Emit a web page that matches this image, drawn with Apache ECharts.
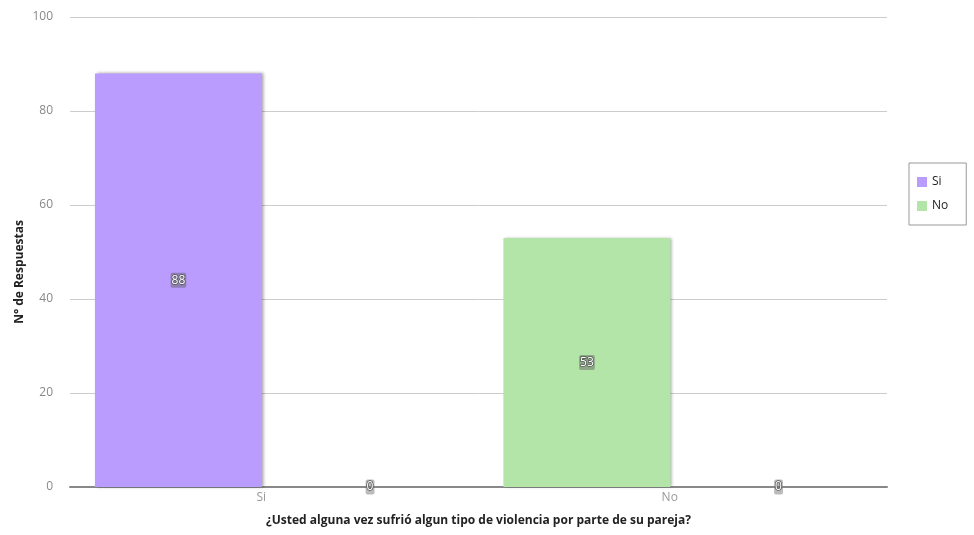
<!DOCTYPE html>
<html>
<head>
<meta charset="utf-8">
<script src="https://cdn.jsdelivr.net/npm/echarts@6/dist/echarts.min.js"></script>
<style>html,body{margin:0;padding:0;background:#fff}#c{width:974px;height:535px}</style>
</head>
<body>
<div id="c"></div>
<script>
var categories = ['Si', 'No'];
var seriesNames = ['Si', 'No'];
var firstValues = [88, 53];
var secondValues = [0, 0];
var yTicks = [0, 20, 40, 60, 80, 100];
var xTitle = '¿Usted alguna vez sufrió algun tipo de violencia por parte de su pareja?';
var yTitle = 'N° de Respuestas';

var purple = '#BA9BFE';
var green = '#B3E5A8';
var pointColors = [purple, green];

var labelStyle = {
  show: true,
  position: 'inside',
  color: '#fff',
  fontFamily: 'Open Sans',
  fontSize: 12,
  textBorderColor: '#555',
  textBorderWidth: 1.5,
  backgroundColor: 'rgba(90,90,90,0.45)',
  borderRadius: 2,
  padding: [2, 1, 1, 1]
};
var shadow = { shadowColor: 'rgba(0,0,0,0.35)', shadowBlur: 3, shadowOffsetX: 2, shadowOffsetY: 0 };

var chart = echarts.init(document.getElementById('c'));
chart.setOption({
  animation: false,
  textStyle: { fontFamily: 'Open Sans' },
  grid: { left: 70, right: 87, top: 17, bottom: 48, containLabel: false },
  legend: {
    orient: 'vertical',
    left: 909, top: 163,
    borderColor: '#999', borderWidth: 1,
    padding: [13, 18, 13, 8],
    icon: 'rect',
    itemWidth: 10, itemHeight: 10, itemGap: 12,
    textStyle: { color: '#222', fontSize: 12, fontFamily: 'Open Sans' },
    data: seriesNames
  },
  xAxis: {
    type: 'category',
    data: categories,
    name: xTitle,
    nameLocation: 'middle',
    nameGap: 28,
    nameMoveOverlap: false,
    nameTextStyle: { fontWeight: 'bold', fontSize: 12, color: '#222' },
    axisLine: { lineStyle: { color: '#888', width: 2 } },
    axisTick: { show: false },
    axisLabel: { color: '#999', fontSize: 12, margin: 5, padding: [0, 26, 0, 0] }
  },
  yAxis: {
    type: 'value',
    min: yTicks[0], max: yTicks[yTicks.length - 1], interval: 20,
    name: yTitle,
    nameLocation: 'middle',
    nameGap: 44,
    nameMoveOverlap: false,
    nameTextStyle: { fontWeight: 'bold', fontSize: 12, color: '#222', padding: [0, 40, 0, 0] },
    axisLine: { show: false },
    axisTick: { show: false },
    axisLabel: { color: '#888', fontSize: 12, margin: 17 },
    splitLine: { lineStyle: { color: '#ccc' } }
  },
  series: [
    {
      name: seriesNames[0],
      type: 'bar',
      barCategoryGap: '12.2%',
      barGap: '14.7%',
      itemStyle: Object.assign({ color: purple }, shadow),
      label: labelStyle,
      data: firstValues.map(function (v, i) { return { value: v, itemStyle: { color: pointColors[i] } }; })
    },
    {
      name: seriesNames[1],
      type: 'bar',
      barCategoryGap: '12.2%',
      barGap: '14.7%',
      itemStyle: Object.assign({ color: green }, shadow),
      label: Object.assign({}, labelStyle, { backgroundColor: 'rgba(120,120,120,0.5)' }),
      data: secondValues
    }
  ]
});
</script>
</body>
</html>
